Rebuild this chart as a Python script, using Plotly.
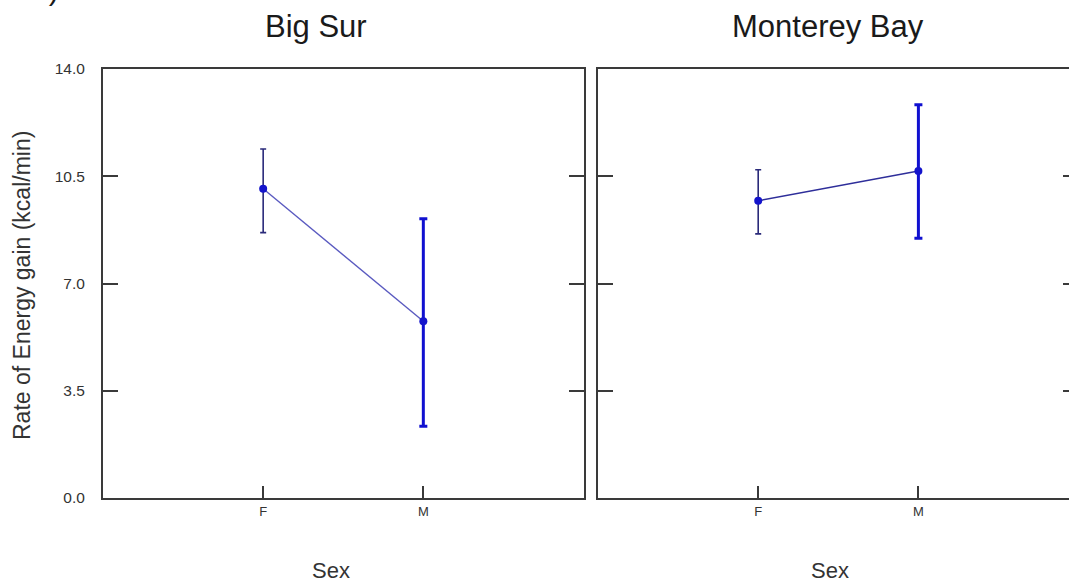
import plotly.graph_objects as go

# ---- data ----
sex = ["F", "M"]
sites = ["Big Sur", "Monterey Bay"]
bigsur_mean = [10.09, 5.77]
bigsur_upper = [11.39, 9.11]
bigsur_lower = [8.66, 2.34]
monterey_mean = [9.70, 10.67]
monterey_upper = [10.71, 12.83]
monterey_lower = [8.62, 8.48]
y_ticks = [0.0, 3.5, 7.0, 10.5, 14.0]
y_ticktext = ["0.0", "3.5", "7.0", "10.5", "14.0"]

W, H = 1069, 584
L, R, T, B = 103, 0, 69, 86
PW, PH = W - L - R, H - T - B


def px(x):
    return (x - L) / PW


def py(y):
    return (H - B - y) / PH


FONT = "Arial, Liberation Sans, sans-serif"
AXC = "#3a3a3a"

fig = go.Figure()

panels = [
    ("x", "y", bigsur_mean, bigsur_upper, bigsur_lower, "#5a5ac0"),
    ("x2", "y2", monterey_mean, monterey_upper, monterey_lower, "#2e2e9a"),
]
for xa, ya, mean, up, lo, lc in panels:
    fig.add_trace(go.Scatter(x=sex, y=mean, mode="lines", xaxis=xa, yaxis=ya,
                             line=dict(color=lc, width=1.4), hoverinfo="skip"))
    # F: thin dark error bar
    fig.add_trace(go.Scatter(
        x=[sex[0]], y=[mean[0]], mode="markers", xaxis=xa, yaxis=ya,
        marker=dict(color="#1414cc", size=8),
        error_y=dict(type="data", symmetric=False,
                     array=[up[0] - mean[0]], arrayminus=[mean[0] - lo[0]],
                     color="#2a2a7a", thickness=1.6, width=3)))
    # M: thick blue error bar
    fig.add_trace(go.Scatter(
        x=[sex[1]], y=[mean[1]], mode="markers", xaxis=xa, yaxis=ya,
        marker=dict(color="#1414cc", size=8),
        error_y=dict(type="data", symmetric=False,
                     array=[up[1] - mean[1]], arrayminus=[mean[1] - lo[1]],
                     color="#1010d0", thickness=3, width=4)))

# invisible trace so the right-hand tick axis of the second panel is drawn
fig.add_trace(go.Scatter(x=[sex[0]], y=[y_ticks[0]], mode="markers",
                         xaxis="x2", yaxis="y3", marker=dict(opacity=0),
                         hoverinfo="skip"))

xcommon = dict(type="category", categoryorder="array", categoryarray=sex,
               showline=True, linecolor=AXC, linewidth=2, mirror=True,
               ticks="inside", ticklen=12, tickwidth=1.5, tickcolor=AXC,
               showgrid=False, zeroline=False,
               tickfont=dict(family=FONT, size=13, color="#333333"))
ycommon = dict(range=[0, 14], tickvals=y_ticks, ticktext=y_ticktext,
               showline=True, linecolor=AXC, linewidth=2,
               ticks="inside", ticklen=15, tickwidth=1.5, tickcolor=AXC,
               showgrid=False, zeroline=False,
               tickfont=dict(family=FONT, size=15.5, color="#333333"))

fig.update_layout(
    width=W, height=H, autosize=False,
    margin=dict(l=L, r=R, t=T, b=B, pad=0),
    paper_bgcolor="white", plot_bgcolor="white",
    showlegend=False,
    xaxis=dict(domain=[0, 480.5 / PW], range=[-1, 2], anchor="y", **xcommon),
    yaxis=dict(domain=[0, 1], anchor="x", mirror="ticks", ticklabelstandoff=13,
               **ycommon),
    xaxis2=dict(domain=[(598 - L) / PW, 1], range=[-1, -1 + 471 / 160.2],
                anchor="y2", **xcommon),
    yaxis2=dict(domain=[0, 1], anchor="x2", mirror=False, showticklabels=False,
                **ycommon),
    yaxis3=dict(range=[0, 14], tickvals=y_ticks, overlaying="y2", side="right",
                anchor="x2", showline=False, showgrid=False, zeroline=False,
                ticks="inside", ticklen=6, tickwidth=1.5, tickcolor=AXC,
                showticklabels=False),
)

ann = []
# panel titles
ann.append(dict(text=sites[0], x=px(316), y=py(27), xref="paper", yref="paper",
                xanchor="center", yanchor="middle", showarrow=False,
                font=dict(family=FONT, size=31, color="#1a1a1a")))
ann.append(dict(text=sites[1], x=px(828), y=py(27), xref="paper", yref="paper",
                xanchor="center", yanchor="middle", showarrow=False,
                font=dict(family=FONT, size=31, color="#1a1a1a")))
# x titles
for cx in (331, 830):
    ann.append(dict(text="Sex", x=px(cx), y=py(570), xref="paper", yref="paper",
                    xanchor="center", yanchor="middle", showarrow=False,
                    font=dict(family=FONT, size=22, color="#333333")))
# y title
ann.append(dict(text="Rate of Energy gain (kcal/min)", x=px(22), y=py(286),
                xref="paper", yref="paper", xanchor="center", yanchor="middle",
                textangle=-90, showarrow=False,
                font=dict(family=FONT, size=23, color="#333333")))
# partial panel label cut at the top (as in the reference)
ann.append(dict(text="b)", x=px(45), y=py(8), xref="paper", yref="paper",
                xanchor="center", yanchor="bottom", showarrow=False,
                font=dict(family=FONT, size=30, color="#1a1a1a")))
fig.update_layout(annotations=ann)

fig.write_html("out.html")
